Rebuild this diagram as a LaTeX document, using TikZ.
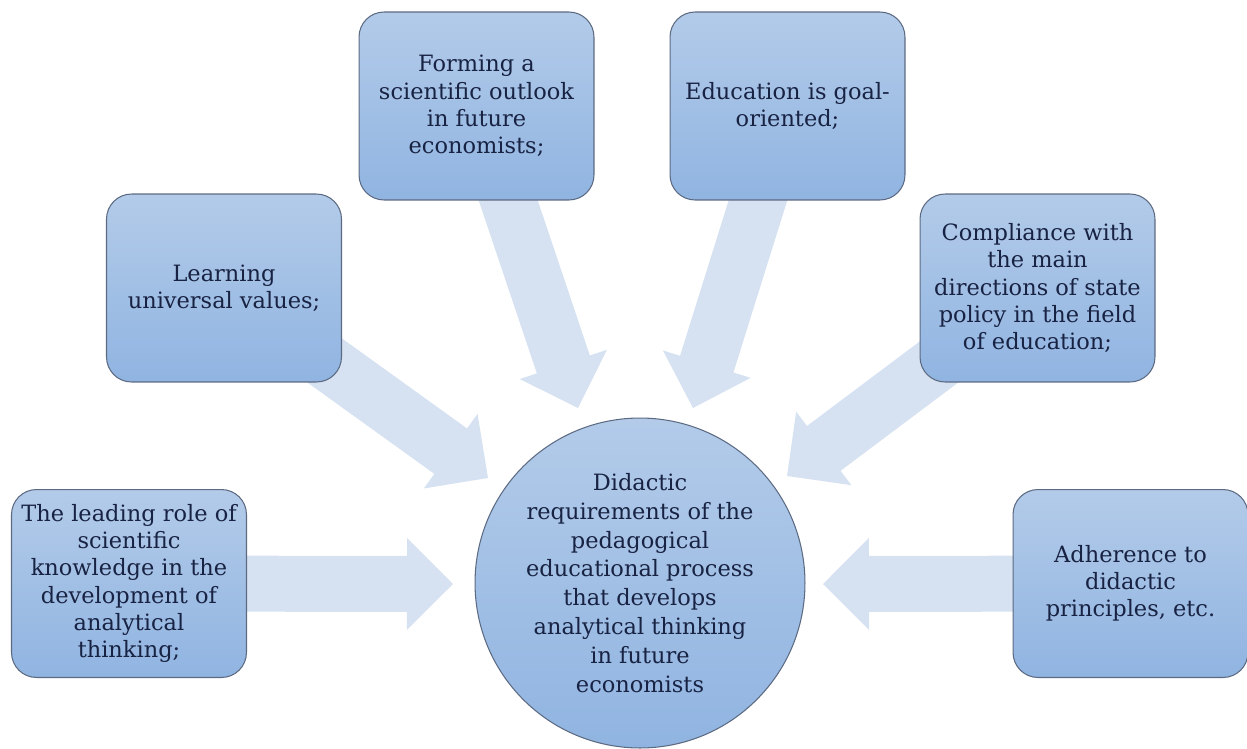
\documentclass[tikz,border=0pt]{standalone}
\usepackage{fontspec}
\setmainfont{DejaVu Serif}
\usetikzlibrary{calc,backgrounds}
\definecolor{boxtop}{RGB}{179,203,233}
\definecolor{boxbot}{RGB}{144,180,225}
\definecolor{boxline}{RGB}{92,106,130}
\definecolor{ink}{RGB}{24,34,66}
\definecolor{arrowfill}{RGB}{214,226,241}

% wide block arrow from #1 to the tip #2
\newcommand\flowarrow[2]{%
  \coordinate (hb) at ($(#2)!0.92cm!(#1)$);
  \fill[arrowfill] ($(#1)!0.56cm!90:(#2)$) -- ($(hb)!0.56cm!90:(#2)$) -- ($(hb)!0.92cm!90:(#2)$) -- (#2)
    -- ($(hb)!0.92cm!-90:(#2)$) -- ($(hb)!0.56cm!-90:(#2)$) -- ($(#1)!0.56cm!-90:(#2)$) -- cycle;}

\tikzset{
  reqbox/.style={draw=boxline,line width=0.6pt,rounded corners=0.5cm,top color=boxtop,bottom color=boxbot,
    minimum width=4.7cm,minimum height=3.76cm,align=center,text=ink,font=\fontsize{12.8}{15.5}\selectfont},
  hub/.style={circle,draw=boxline,line width=0.6pt,top color=boxtop,bottom color=boxbot,
    minimum size=6.6cm,inner sep=0pt,align=center,text=ink,font=\fontsize{12.8}{16.4}\selectfont}
}

\begin{document}
\begin{tikzpicture}[line cap=round,line join=round,x=0.02cm,y=-0.02cm]
      \useasboundingbox (0,0) rectangle (1247,748);
      \node[hub] (hub) at (640,583) {Didactic\\requirements of the\\pedagogical\\educational process\\that develops\\analytical thinking\\in future\\economists};
      \node[reqbox] (lead) at (129,583.5) {The leading role of\\scientific\\knowledge in the\\development of\\analytical\\thinking;};
      \node[reqbox] (learn) at (224,288) {Learning\\universal values;};
      \node[reqbox] (form) at (476.5,106) {Forming a\\scientific outlook\\in future\\economists;};
      \node[reqbox] (goal) at (787.5,106) {Education is goal-\\oriented;};
      \node[reqbox] (comply) at (1037.5,288) {Compliance with\\the main\\directions of state\\policy in the field\\of education;};
      \node[reqbox] (adhere) at (1130.5,583.5) {Adherence to\\didactic\\principles, etc.};
      % arrow tips in front of the circle
      \coordinate (tip-lead) at (453,584);
      \coordinate (tip-learn) at (488,478);
      \coordinate (tip-form) at (578,408);
      \coordinate (tip-goal) at (693,408);
      \coordinate (tip-comply) at (787,476);
      \coordinate (tip-adhere) at (823,584);
      \begin{pgfonlayer}{background}
      \flowarrow{lead}{tip-lead}
      \flowarrow{learn}{tip-learn}
      \flowarrow{form}{tip-form}
      \flowarrow{goal}{tip-goal}
      \flowarrow{comply}{tip-comply}
      \flowarrow{adhere}{tip-adhere}
      \end{pgfonlayer}
\end{tikzpicture}
\end{document}
